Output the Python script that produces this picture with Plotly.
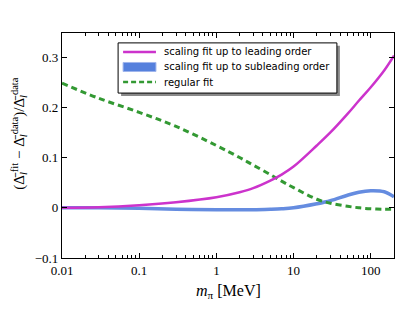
import plotly.graph_objects as go

# pion mass in MeV
m_pi = [0.01, 0.03, 0.1, 0.3, 1, 2, 3, 5, 7, 10, 20, 30, 50, 70, 100, 150, 200]

# relative deviation of each fit
leading = [0.0, 0.001, 0.005, 0.011, 0.021, 0.031, 0.039, 0.054, 0.066, 0.082, 0.124, 0.15, 0.187, 0.213, 0.24, 0.274, 0.303]
subleading = [0.0, 0.0, -0.001, -0.003, -0.004, -0.004, -0.004, -0.003, -0.002, 0.0, 0.008, 0.014, 0.025, 0.031, 0.034, 0.032, 0.022]
regular = [0.248, 0.218, 0.19, 0.162, 0.124, 0.1, 0.085, 0.066, 0.053, 0.04, 0.017, 0.009, 0.003, 0.0, -0.002, -0.003, -0.003]

names = ["scaling fit up to leading order", "scaling fit up to subleading order", "regular fit"]
colors = ["#cc33cc", "#5580dd", "#339933"]

xticks = [0.01, 0.1, 1, 10, 100]
xticklabels = ["0.01", "0.1", "1", "10", "100"]
yticks = [-0.1, 0, 0.1, 0.2, 0.3]
yticklabels = ["\u22120.1", "0", "0.1", "0.2", "0.3"]

# minor ticks 2..9 in every decade
minor_x = [k * d for d in [0.01, 0.1, 1, 10, 100] for k in range(2, 10) if k * d <= 200]

serif = "Liberation Serif"

fig = go.Figure()
fig.add_trace(go.Scatter(x=m_pi, y=subleading, mode="lines", line=dict(color=colors[1], width=3.5, shape="spline"),
                         opacity=0.9, showlegend=False))
fig.add_trace(go.Scatter(x=m_pi, y=regular, mode="lines", line=dict(color=colors[2], width=3, dash="6px,4px", shape="spline"),
                         showlegend=False))
fig.add_trace(go.Scatter(x=m_pi, y=leading, mode="lines", line=dict(color=colors[0], width=2.5, shape="spline"),
                         showlegend=False))

# legend drawn by hand: box with a grey drop shadow
lx0, lx1, ly0, ly1 = 0.169, 0.828, 0.733, 0.956
fig.add_shape(type="rect", xref="paper", yref="paper", x0=lx0 + 0.009, x1=lx1 + 0.009, y0=ly0 - 0.013, y1=ly1 - 0.013,
              fillcolor="#8a8a8a", line=dict(width=0))
fig.add_shape(type="rect", xref="paper", yref="paper", x0=lx0, x1=lx1, y0=ly0, y1=ly1,
              fillcolor="white", line=dict(color="black", width=1))
rows = [0.916, 0.849, 0.782]
hx0, hx1 = 0.184, 0.283
fig.add_shape(type="line", xref="paper", yref="paper", x0=hx0, x1=hx1, y0=rows[0], y1=rows[0],
              line=dict(color=colors[0], width=2.5))
fig.add_shape(type="rect", xref="paper", yref="paper", x0=hx0, x1=hx1, y0=rows[1] - 0.02, y1=rows[1] + 0.02,
              fillcolor=colors[1], line=dict(color="#9fb5ec", width=1))
fig.add_shape(type="line", xref="paper", yref="paper", x0=hx0, x1=hx1, y0=rows[2], y1=rows[2],
              line=dict(color=colors[2], width=2.5, dash="5px,3px"))
for name, yy in zip(names, rows):
    fig.add_annotation(x=0.302, y=yy, xref="paper", yref="paper", text=name, showarrow=False,
                       xanchor="left", yanchor="middle", font=dict(family="DejaVu Sans", size=10, color="black"))

# axis titles as annotations so they sit where the original has them
fig.add_annotation(x=0.5, y=-0.151, xref="paper", yref="paper", text="<i>m</i><sub>π</sub> [MeV]",
                   showarrow=False, xanchor="center", yanchor="middle",
                   font=dict(family=serif, size=16, color="black"))
fig.add_annotation(x=-0.13, y=0.556, xref="paper", yref="paper", textangle=-90,
                   text="(Δ\u0304<sub><i>l</i></sub><sup>fit</sup> − Δ\u0304<sub><i>l</i></sub><sup>data</sup>)/Δ\u0304<sub><i>l</i></sub><sup>data</sup>",
                   showarrow=False, xanchor="center", yanchor="middle",
                   font=dict(family=serif, size=15, color="black"))

axis_common = dict(showline=True, linecolor="black", linewidth=1.3, mirror="ticks", ticks="inside",
                   ticklen=5, tickcolor="black", showgrid=False, zeroline=False, automargin=False,
                   tickfont=dict(family=serif, size=13, color="black"))

fig.update_xaxes(type="log", range=[-2, 2.301], tickvals=xticks, ticktext=xticklabels,
                 minor=dict(tickvals=minor_x, ticks="inside", ticklen=2.5, tickwidth=1, tickcolor="black", showgrid=False),
                 **axis_common)
fig.update_yaxes(range=[-0.1, 0.348], tickvals=yticks, ticktext=yticklabels, **axis_common)

# page body adds an 8px margin, so the figure is trimmed to fit the window
fig.update_layout(width=407, height=315, margin=dict(l=54, r=21, t=25, b=65),
                  plot_bgcolor="white", paper_bgcolor="white", showlegend=False)

fig.write_html("out.html")
